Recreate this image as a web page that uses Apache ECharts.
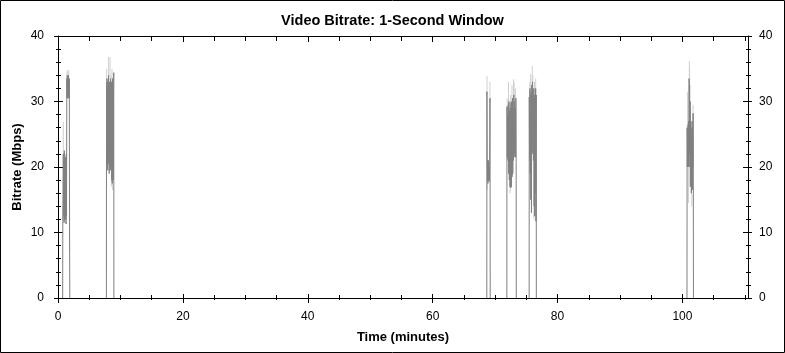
<!DOCTYPE html>
<html>
<head>
<meta charset="utf-8">
<script src="https://cdn.jsdelivr.net/npm/echarts@6/dist/echarts.min.js"></script>
<style>html,body{margin:0;padding:0;background:#fff}#c{width:785px;height:353px}</style>
</head>
<body>
<div id="c"></div>
<script>
const titleText = 'Video Bitrate: 1-Second Window';
const xName = 'Time (minutes)';
const yName = 'Bitrate (Mbps)';
const xMin = 0, xMax = 110.5;
const yMin = 0, yMax = 40;
const xMajorTicks = [0, 20, 40, 60, 80, 100];
const xMinorTicks = [0,5,10,15,20,25,30,35,40,45,50,55,60,65,70,75,80,85,90,95,100,105,110];
const yMajorTicks = [0, 10, 20, 30, 40];
const yMinorTicks = [0,2,4,6,8,10,12,14,16,18,20,22,24,26,28,30,32,34,36,38,40];

// [minutes, Mbps]
const burst1 = [[0.75,0],[0.77,11.7],[0.81,12],[0.85,22],[0.89,12.5],[0.93,21],[0.97,11.5],[1.01,22.5],[1.05,12],[1.09,20],[1.13,13],[1.17,21.5],[1.21,12],[1.25,20],[1.29,11.3],[1.33,22],[1.37,12.5],[1.41,33.5],[1.45,30.5],[1.49,34],[1.53,31],[1.57,33.5],[1.61,30.5],[1.65,34],[1.69,31],[1.73,33],[1.77,30.5],[1.81,33.5],[1.85,10.1],[1.88,10],[1.89,0]];
const burst2 = [[7.75,0],[7.77,33],[7.81,20],[7.85,33.5],[7.89,21],[7.93,32],[7.97,19.5],[8.01,33],[8.05,20.5],[8.09,34],[8.13,21],[8.17,30.5],[8.21,19],[8.25,33],[8.29,22],[8.33,31],[8.37,20],[8.41,33.5],[8.45,19.5],[8.49,30],[8.53,21],[8.57,33],[8.61,18],[8.65,32],[8.69,17.5],[8.73,33.5],[8.77,19],[8.81,30],[8.85,18],[8.89,31],[8.93,34.4],[8.95,0]];
const burst3 = [[68.67,0],[68.69,31.5],[68.73,20],[68.77,18],[68.81,21],[68.85,17.5],[68.89,20.5],[68.93,18],[68.97,21],[69.01,18],[69.05,20],[69.09,17.8],[69.13,20.5],[69.18,30.5],[69.2,18],[69.22,0]];
const burst4 = [[71.88,0],[71.9,29.2],[71.95,21.5],[72.0,28],[72.06,21],[72.11,29.5],[72.17,19],[72.22,30],[72.28,18],[72.33,28.5],[72.39,17],[72.44,29],[72.5,16.8],[72.55,29.8],[72.61,17],[72.66,30],[72.72,18.5],[72.78,30.5],[72.83,19],[72.89,29],[72.94,21],[73.0,31],[73.05,21.5],[73.11,30],[73.17,22],[73.22,29],[73.28,21.5],[73.33,30.5],[73.37,22.6],[73.39,0]];
const burst5 = [[75.45,0],[75.47,30.7],[75.52,21],[75.57,32],[75.62,19],[75.67,31],[75.72,15],[75.77,31.5],[75.82,13],[75.87,32.5],[75.93,22],[75.98,33],[76.04,22.5],[76.09,31],[76.14,21],[76.19,32],[76.24,14],[76.29,31],[76.34,12.5],[76.39,30],[76.44,16],[76.49,32],[76.54,11.7],[76.59,31],[76.6,0]];
const burst6 = [[100.73,0],[100.75,26],[100.79,20],[100.83,25.5],[100.87,21],[100.91,26.5],[100.95,20],[100.99,27],[101.03,24],[101.07,33.5],[101.11,22],[101.15,32.5],[101.19,20],[101.23,30],[101.27,17],[101.31,27],[101.35,18],[101.39,26],[101.43,16],[101.47,25],[101.51,18],[101.55,27],[101.59,16.5],[101.63,26],[101.67,20],[101.71,28.2],[101.74,22],[101.76,0]];
// light-grey short excursions: [minutes, from Mbps, to Mbps]
const peakSpikes = [
  [0.85,22,26.9],[0.8,12,14],[1.45,33,34.8],[1.57,33,34.5],[1.73,33,34.8],[1.86,7,15.5],
  [7.8,33,35],[8.1,33,36.8],[8.33,31,36.8],[8.5,30,34],[8.65,32,35],[8.8,30,33.5],[8.55,17,19],[8.75,16.5,18.5],
  [68.7,31,33.9],[69.17,30,33],[68.72,16.5,18],
  [71.95,28,30.5],[72.15,27,33],[72.45,28,31],[72.7,28.5,32.5],[72.95,30,33.4],[73.05,30,33],[73.25,30,32],[72.4,16,17.5],
  [75.55,31,33],[75.7,31,34.2],[75.95,31,35.4],[76.05,32,34],[76.3,30,33],[76.5,30,33.5],[76.2,12,14],
  [100.8,25,31.5],[101.1,33,36.2],[101.15,32,35.5],[101.3,25,29],[101.7,27,29.5],[100.99,14.5,20],[101.5,14,16]
];

const bursts = [burst1, burst2, burst3, burst4, burst5, burst6];
const mainData = [];
bursts.forEach(b => { b.forEach(p => mainData.push(p)); mainData.push([b[b.length-1][0], '-']); });
const peakData = [];
peakSpikes.forEach(s => { peakData.push([s[0], s[1]]); peakData.push([s[0], s[2]]); peakData.push([s[0], '-']); });

const FONT = 'Liberation Sans, Arial, sans-serif';
const black = '#000';

function ax(kind, pos, ticks, len, inside, extra) {
  const o = {
    type: 'value', position: pos,
    min: kind === 'x' ? xMin : yMin, max: kind === 'x' ? xMax : yMax,
    axisLine: { show: false, onZero: false, lineStyle: { color: black, width: 1 } },
    axisTick: { show: true, inside: inside, length: len, customValues: ticks, lineStyle: { color: black, width: 1 } },
    axisLabel: { show: false },
    splitLine: { show: false },
    minorTick: { show: false }
  };
  return Object.assign(o, extra || {});
}
const labelStyle = { color: black, fontSize: 12, fontFamily: FONT };
const nameStyle = { color: black, fontSize: 13, fontWeight: 'bold', fontFamily: FONT };

const xAxes = [
  ax('x', 'bottom', xMajorTicks, 5, false, {
    axisLine: { show: true, onZero: false, lineStyle: { color: black, width: 1 } },
    axisLabel: Object.assign({ show: true, margin: 13, customValues: xMajorTicks }, labelStyle),
    name: xName, nameLocation: 'middle', nameGap: 33, nameMoveOverlap: false, nameTextStyle: nameStyle
  }),
  ax('x', 'bottom', xMinorTicks, 2, false),
  ax('x', 'bottom', xMajorTicks, 4, true),
  ax('x', 'bottom', xMinorTicks, 3, true),
  ax('x', 'top', xMajorTicks, 6, true, { axisLine: { show: true, onZero: false, lineStyle: { color: black, width: 1 } } }),
  ax('x', 'top', xMinorTicks, 5, true)
];
const yAxes = [
  ax('y', 'left', yMajorTicks, 4, false, {
    axisLine: { show: true, onZero: false, lineStyle: { color: black, width: 1 } },
    axisLabel: Object.assign({ show: true, margin: 14, customValues: yMajorTicks }, labelStyle),
    name: yName, nameLocation: 'middle', nameGap: 34, nameMoveOverlap: false, nameTextStyle: nameStyle
  }),
  ax('y', 'left', yMinorTicks, 2, false),
  ax('y', 'left', yMajorTicks, 5, true),
  ax('y', 'left', yMinorTicks, 3, true),
  ax('y', 'right', yMajorTicks, 4, false, {
    axisLine: { show: true, onZero: false, lineStyle: { color: black, width: 1 } },
    axisLabel: Object.assign({ show: true, margin: 11, customValues: yMajorTicks }, labelStyle)
  }),
  ax('y', 'right', yMinorTicks, 3, false),
  ax('y', 'right', yMajorTicks, 5, true),
  ax('y', 'right', yMinorTicks, 2, true)
];

const chart = echarts.init(document.getElementById('c'), null, { renderer: 'canvas' });
chart.setOption({
  animation: false,
  backgroundColor: '#fff',
  title: { text: titleText, left: 'center', top: 8, textStyle: { color: black, fontSize: 14.5, fontWeight: 'bold', fontFamily: FONT } },
  grid: { left: 58, right: 37, top: 36, bottom: 55, containLabel: false, outerBoundsMode: 'none' },
  xAxis: xAxes,
  yAxis: yAxes,
  graphic: [{ type: 'rect', shape: { x: 0.5, y: 0.5, width: 784, height: 352 }, style: { fill: 'none', stroke: black, lineWidth: 1 }, silent: true, z: 100 }],
  series: [
    { type: 'line', name: 'peaks', data: peakData, xAxisIndex: 0, yAxisIndex: 0, showSymbol: false, connectNulls: false,
      lineStyle: { color: '#d0d0d0', width: 1 }, z: 1, silent: true },
    { type: 'line', name: 'bitrate', data: mainData, xAxisIndex: 0, yAxisIndex: 0, showSymbol: false, connectNulls: false,
      lineStyle: { color: '#808080', width: 1 }, z: 2, silent: true }
  ]
});
</script>
</body>
</html>
